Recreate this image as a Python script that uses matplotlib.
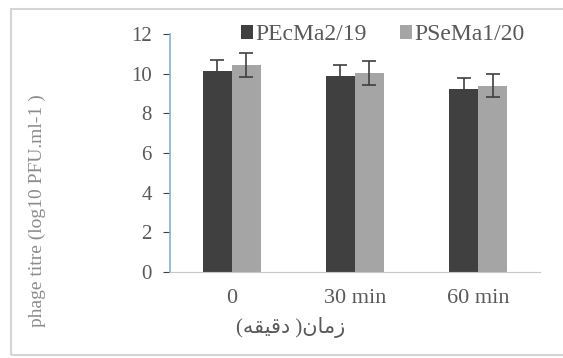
# Phage titre over time for two phages, grouped bars with error bars
import matplotlib.pyplot as plt
from matplotlib.patches import Rectangle
import numpy as np

times = ["0", "30 min", "60 min"]
phages = ["PEcMa2/19", "PSeMa1/20"]
titre_ecma = [10.15, 9.9, 9.25]
titre_sema = [10.45, 10.05, 9.4]
err_ecma = [0.55, 0.55, 0.55]
err_sema = [0.6, 0.6, 0.6]

# x label in Persian, written with shaped glyphs in display order
xlabel_fa = "(\uFEEA\uFED8\uFEF4\uFED7\uFEA9 )\uFEE5\uFE8E\uFEE3\uFEAF"

plt.rcParams['font.family'] = ['Liberation Serif', 'DejaVu Sans']

fig = plt.figure(figsize=(5.63, 3.58), dpi=100)
ax = fig.add_axes([0.302, 0.240, 0.657, 0.665])

x = np.arange(len(times))
w = 0.235
ax.bar(x - w/2, titre_ecma, w, color="#404040", label=phages[0],
       yerr=err_ecma, error_kw=dict(ecolor="#404040", elinewidth=1.2, capsize=5, capthick=1.2))
ax.bar(x + w/2, titre_sema, w, color="#a5a5a5", label=phages[1],
       yerr=err_sema, error_kw=dict(ecolor="#404040", elinewidth=1.2, capsize=5, capthick=1.2))

ax.set_xlim(-0.5, 2.5)
ax.set_ylim(0, 12)
ax.set_yticks(range(0, 13, 2))
ax.set_xticks(x)
ax.set_xticklabels(times)

for s in ["top", "right"]:
    ax.spines[s].set_visible(False)
ax.spines["left"].set_color("#7fb2e5")
ax.spines["left"].set_linewidth(1.2)
ax.spines["bottom"].set_color("#c8c8c8")
ax.tick_params(axis="y", length=5, color="#404040", labelsize=15, labelcolor="#595959", pad=8)
ax.tick_params(axis="x", length=0, labelsize=16, labelcolor="#595959", pad=12)

ax.legend(loc="center", bbox_to_anchor=(0.68, 0.903), bbox_transform=fig.transFigure,
          ncol=2, frameon=False, fontsize=17, handlelength=0.5, handleheight=0.5,
          handletextpad=0.1, columnspacing=1.4, labelcolor="#595959")

fig.text(0.517, 0.085, xlabel_fa, ha="center", va="center", fontsize=15, color="#595959")
fig.text(0.066, 0.413, "phage titre (log10 PFU.ml-1 )", rotation=90, ha="center",
         va="center", fontsize=14, color="#8c8c8c")

# light frame around the figure
fig.patches.append(Rectangle((11/563, 3/358), 1.0, 346/358, transform=fig.transFigure,
                             fill=False, edgecolor="#d4d4d4", linewidth=1.5))

fig.savefig("out.png", dpi=100)
